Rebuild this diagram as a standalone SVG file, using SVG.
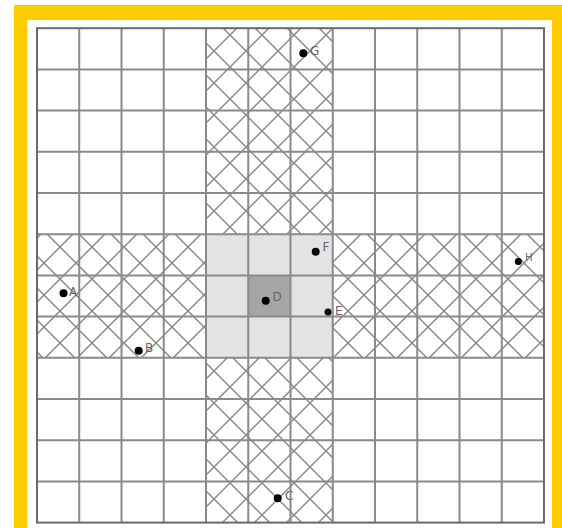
<svg xmlns="http://www.w3.org/2000/svg" width="562" height="528" viewBox="0 0 562 528">
<style>
.grid{stroke:#8a8a8a;stroke-width:2;fill:none}
.outer{stroke:#6a6a6a;stroke-width:2;fill:none}
.dot{fill:#000}
.lbl{font-family:"DejaVu Sans",sans-serif;font-size:12px;fill:#666}
</style>
<defs>
<pattern id="hatchV" patternUnits="userSpaceOnUse" x="6" y="3" width="32" height="32">
<path d="M0,0L32,32M0,32L32,0" stroke="#8a8a8a" stroke-width="1.5"/>
</pattern>
<pattern id="hatchH" patternUnits="userSpaceOnUse" x="28" y="23" width="32" height="32">
<path d="M0,0L32,32M0,32L32,0" stroke="#8a8a8a" stroke-width="1.5"/>
</pattern>
</defs>
<rect x="14" y="5" width="548" height="523" fill="#FFCC00"/>
<rect x="27" y="20" width="525" height="508" fill="#fff"/>
<g id="regions">
<rect x="206" y="28.2" width="126.75" height="206" fill="url(#hatchV)"/>
<rect x="206" y="357.8" width="126.75" height="164.8" fill="url(#hatchV)"/>
<rect x="37" y="234.2" width="169" height="123.6" fill="url(#hatchH)"/>
<rect x="332.75" y="234.2" width="211.25" height="123.6" fill="url(#hatchH)"/>
<rect x="206" y="234.2" width="126.75" height="123.6" fill="#e3e3e3"/>
<rect x="248.25" y="275.4" width="42.25" height="41.2" fill="#a5a5a5"/>
</g>
<g id="grid" class="grid">
<path d="M79.25,28.2V522.6M121.5,28.2V522.6M163.75,28.2V522.6M206,28.2V522.6M248.25,28.2V522.6M290.5,28.2V522.6M332.75,28.2V522.6M375,28.2V522.6M417.25,28.2V522.6M459.5,28.2V522.6M501.75,28.2V522.6"/>
<path d="M37,69.4H544M37,110.6H544M37,151.8H544M37,193H544M37,234.2H544M37,275.4H544M37,316.6H544M37,357.8H544M37,399H544M37,440.2H544M37,481.4H544"/>
<rect class="outer" x="37" y="28.2" width="507" height="494.4"/>
</g>
<g id="connectors"></g>
<g id="node-A"><circle class="dot" cx="63.5" cy="293.3" r="4"/><text class="lbl" x="69" y="296">A</text></g>
<g id="node-B"><circle class="dot" cx="138.7" cy="350.7" r="4"/><text class="lbl" x="145" y="352">B</text></g>
<g id="node-C"><circle class="dot" cx="277.7" cy="498.3" r="4"/><text class="lbl" x="285" y="500">C</text></g>
<g id="node-D"><circle class="dot" cx="265.7" cy="300.7" r="4"/><text class="lbl" x="272.5" y="301">D</text></g>
<g id="node-E"><circle class="dot" cx="328" cy="312" r="3.5"/><text class="lbl" x="335" y="315">E</text></g>
<g id="node-F"><circle class="dot" cx="315.7" cy="251.7" r="4"/><text class="lbl" x="322.5" y="251">F</text></g>
<g id="node-G"><circle class="dot" cx="303.3" cy="53.3" r="4"/><text class="lbl" x="310" y="55">G</text></g>
<g id="node-H"><circle class="dot" cx="518.3" cy="261.5" r="3.5"/><text class="lbl" x="525" y="261" style="font-size:10px">H</text></g>
</svg>
